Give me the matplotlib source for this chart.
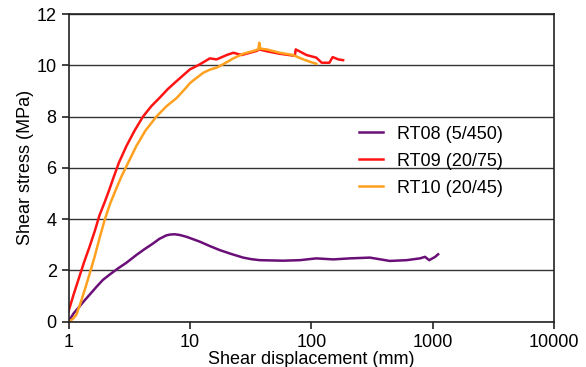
import matplotlib.pyplot as plt

plt.rcParams['font.family'] = ['Liberation Sans', 'DejaVu Sans']

# shear displacement (mm) / shear stress (MPa) for each test
rt08_x = [1.0, 1.1, 1.23, 1.35, 1.49, 1.7, 1.92, 2.2, 2.56, 3.0, 3.62, 4.2, 4.97,
          5.6, 6.42, 6.9, 7.5, 8.3, 9.4, 10.6, 12.1, 14.6, 17.7, 22, 27.5, 32,
          37.7, 58.6, 80.4, 110, 152, 208, 304, 444, 610, 786, 865, 937, 1050,
          1110]
rt08_y = [0.0, 0.32, 0.59, 0.82, 1.05, 1.36, 1.63, 1.85, 2.08, 2.3, 2.6, 2.82,
          3.05, 3.23, 3.37, 3.40, 3.41, 3.38, 3.31, 3.22, 3.12, 2.95, 2.79, 2.64,
          2.5, 2.44, 2.4, 2.38, 2.4, 2.47, 2.43, 2.47, 2.5, 2.37, 2.4, 2.47, 2.53,
          2.4, 2.53, 2.63]

rt09_x = [1.0, 1.1, 1.23, 1.35, 1.49, 1.65, 1.80, 2.0, 2.18, 2.32, 2.6, 3.0, 3.5,
          4.11, 4.8, 5.65, 6.6, 7.76, 9.0, 10.0, 10.6, 12.1, 14.6, 16.6, 20.1,
          22.8, 26.7, 31.3, 35.5, 37.3, 42.8, 55, 70.7, 73.4, 74.5, 91.5, 110,
          122, 141, 150, 167, 183]
rt09_y = [0.4, 1.05, 1.76, 2.35, 2.92, 3.55, 4.15, 4.7, 5.18, 5.55, 6.2, 6.85,
          7.45, 8.0, 8.4, 8.74, 9.08, 9.38, 9.65, 9.84, 9.9, 10.04, 10.27, 10.23,
          10.4, 10.49, 10.4, 10.49, 10.56, 10.62, 10.55, 10.45, 10.38, 10.4,
          10.62, 10.4, 10.3, 10.1, 10.1, 10.32, 10.23, 10.2]

rt10_x = [1.0, 1.08, 1.16, 1.25, 1.36, 1.5, 1.64, 1.8, 1.98, 2.2, 2.48, 2.72,
          3.1, 3.62, 4.3, 5.3, 6.4, 7.76, 9.0, 10.0, 10.6, 12.9, 14.6, 16.6,
          18.8, 22.8, 27.5, 33.4, 36.6, 37.3, 38, 42.8, 55, 70.7, 86, 100, 110]
rt10_y = [0.0, 0.1, 0.27, 0.7, 1.24, 1.9, 2.53, 3.25, 3.95, 4.6, 5.2, 5.65,
          6.2, 6.85, 7.45, 8.0, 8.4, 8.72, 9.05, 9.3, 9.4, 9.71, 9.83, 9.91,
          10.04, 10.27, 10.45, 10.56, 10.62, 10.88, 10.65, 10.62, 10.49, 10.4,
          10.23, 10.12, 10.06]

fig = plt.figure(figsize=(5.86, 3.67), dpi=100)
ax = fig.add_axes([0.1169, 0.1234, 0.8285, 0.8384])

ax.plot(rt08_x, rt08_y, color='#6b0f78', lw=1.8, label='RT08 (5/450)')
ax.plot(rt09_x, rt09_y, color='#ff1414', lw=1.8, label='RT09 (20/75)')
ax.plot(rt10_x, rt10_y, color='#ffa01e', lw=1.8, label='RT10 (20/45)')

ax.set_xscale('log')
ax.set_xlim(1, 10000)
ax.set_ylim(0, 12)
ax.set_xticks([1, 10, 100, 1000, 10000])
ax.set_xticklabels(['1', '10', '100', '1000', '10000'])
ax.minorticks_off()
ax.set_yticks(range(0, 13, 2))

ax.yaxis.grid(True, color='#333333', lw=1)
ax.set_axisbelow(True)
for s in ax.spines.values():
    s.set_color('#222222')
    s.set_linewidth(1.2)

ax.tick_params(labelsize=13, length=5, width=1.2, colors='#222222',
               labelcolor='black')
ax.set_xlabel('Shear displacement (mm)', fontsize=13, labelpad=0)
ax.set_ylabel('Shear stress (MPa)', fontsize=13, labelpad=2)

ax.legend(frameon=False, fontsize=13, loc='upper left',
          bbox_to_anchor=(0.565, 0.69), handlelength=1.3, labelspacing=0.55)

fig.savefig('out.png', dpi=100)
